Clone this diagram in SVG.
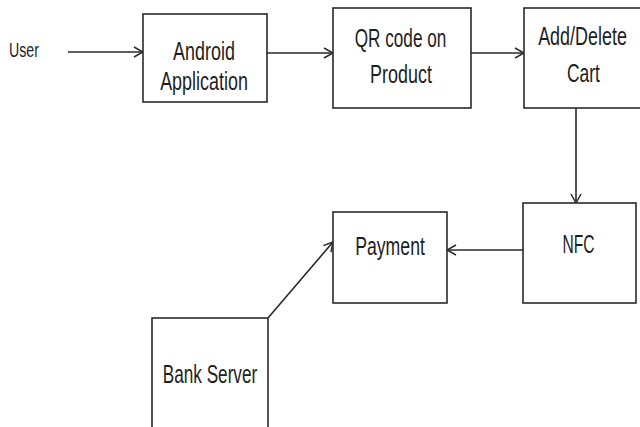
<svg xmlns="http://www.w3.org/2000/svg" width="640" height="427" viewBox="0 0 640 427">
  <style>
    .box { fill: #ffffff; stroke: #2a2a2a; stroke-width: 1.6; }
    .edge { fill: none; stroke: #2a2a2a; stroke-width: 1.6; }
    .label { font-family: "Liberation Sans", Arial, sans-serif; font-size: 26px; fill: #1e1e1e; text-anchor: middle; }
    .small { font-size: 20px; }
  </style>
  <defs>
    <marker id="open" viewBox="0 0 12 12" refX="11" refY="6" markerWidth="12" markerHeight="12" markerUnits="userSpaceOnUse" orient="auto">
      <path d="M2,1 L11,6 L2,11" fill="none" stroke="#2a2a2a" stroke-width="1.5"/>
    </marker>
  </defs>
  <rect width="640" height="427" fill="#ffffff"/>

  <!-- flow connectors -->
  <g id="connectors">
    <line class="edge" x1="68" y1="52" x2="143" y2="52" marker-end="url(#open)"/>
    <line class="edge" x1="267" y1="53" x2="333" y2="53" marker-end="url(#open)"/>
    <line class="edge" x1="471" y1="53" x2="524" y2="53" marker-end="url(#open)"/>
    <line class="edge" x1="576" y1="108" x2="576" y2="203" marker-end="url(#open)"/>
    <line class="edge" x1="523" y1="250" x2="447" y2="250" marker-end="url(#open)"/>
    <line class="edge" x1="268" y1="318" x2="333" y2="242" marker-end="url(#open)"/>
  </g>

  <g id="user">
    <text class="label small" transform="translate(24,57) scale(0.71,1)">User</text>
  </g>

  <g id="android-app">
    <rect class="box" x="143" y="14" width="124" height="88"/>
    <text class="label" transform="translate(204,60) scale(0.69,1)">Android</text>
    <text class="label" transform="translate(204,90) scale(0.69,1)">Application</text>
  </g>

  <g id="qr-code">
    <rect class="box" x="333" y="8" width="138" height="100"/>
    <text class="label" transform="translate(400.5,47) scale(0.66,1)">QR code on</text>
    <text class="label" transform="translate(401,83) scale(0.69,1)">Product</text>
  </g>

  <g id="cart">
    <rect class="box" x="524" y="8" width="130" height="100"/>
    <text class="label" transform="translate(582.5,45) scale(0.69,1)">Add/Delete</text>
    <text class="label" transform="translate(583.5,82) scale(0.67,1)">Cart</text>
  </g>

  <g id="nfc">
    <rect class="box" x="523" y="203" width="113" height="100"/>
    <text class="label" transform="translate(578.5,253) scale(0.6,1)">NFC</text>
  </g>

  <g id="payment">
    <rect class="box" x="333" y="212" width="114" height="91"/>
    <text class="label" transform="translate(390,255) scale(0.68,1)">Payment</text>
  </g>

  <g id="bank-server">
    <rect class="box" x="152" y="318" width="116" height="130"/>
    <text class="label" transform="translate(210,383) scale(0.66,1)">Bank Server</text>
  </g>
</svg>
